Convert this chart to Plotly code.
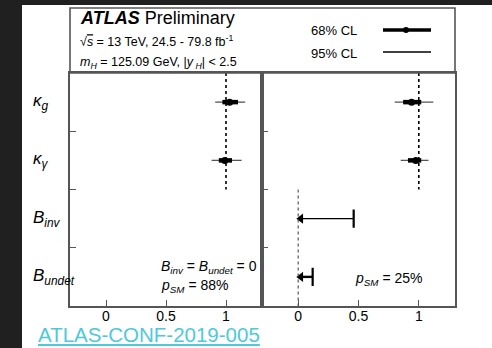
import plotly.graph_objects as go
from plotly.subplots import make_subplots

# Parameters (top to bottom)
params = ["kg", "ka", "Binv", "Bundet"]
param_labels = ["<i>κ</i><sub><i>g</i></sub>", "<i>κ</i><sub><i>γ</i></sub>",
                "<i>B</i><sub><i>inv</i></sub>", "<i>B</i><sub><i>undet</i></sub>"]

# Fit with B_inv = B_undet = 0 (kappa_g, kappa_gamma)
left_params = ["kg", "ka"]
left_best = [1.03, 0.99]
left_lo68 = [0.97, 0.94]
left_hi68 = [1.10, 1.05]
left_lo95 = [0.91, 0.88]
left_hi95 = [1.16, 1.13]

# Fit with B_inv and B_undet free
right_params = ["kg", "ka"]
right_best = [0.94, 0.975]
right_lo68 = [0.87, 0.91]
right_hi68 = [1.02, 1.02]
right_lo95 = [0.80, 0.85]
right_hi95 = [1.12, 1.08]

# 95% CL upper limits on branching ratios
limit_params = ["Binv", "Bundet"]
limit_values = [0.46, 0.12]
limit_widths = [1.2, 2.4]

xticks = [0, 0.5, 1]
xtick_text = ["0", "0.5", "1"]

FONT = "Liberation Sans, Arial, sans-serif"
W, H = 492, 348
ML, MR, MT, MB = 70, 37, 73, 42
PW, PH = W - ML - MR, H - MT - MB


def px(x):
    return (x - ML) / PW


def py(y):
    return (H - MB - y) / PH


fig = make_subplots(rows=1, cols=2, shared_yaxes=True, horizontal_spacing=0,
                    column_widths=[192, 193])


def add_fit(best, lo68, hi68, lo95, hi95, cats, col):
    fig.add_trace(go.Scatter(
        x=best, y=cats, mode="markers",
        marker=dict(size=0.1, color="rgba(0,0,0,0)"),
        error_x=dict(type="data", symmetric=False,
                     array=[h - b for h, b in zip(hi95, best)],
                     arrayminus=[b - l for b, l in zip(best, lo95)],
                     thickness=1.3, width=0, color="#555"),
        showlegend=False, hoverinfo="skip"), row=1, col=col)
    fig.add_trace(go.Scatter(
        x=best, y=cats, mode="markers",
        marker=dict(size=7, color="black"),
        error_x=dict(type="data", symmetric=False,
                     array=[h - b for h, b in zip(hi68, best)],
                     arrayminus=[b - l for b, l in zip(best, lo68)],
                     thickness=4.5, width=0, color="black"),
        showlegend=False), row=1, col=col)


add_fit(left_best, left_lo68, left_hi68, left_lo95, left_hi95, left_params, 1)
add_fit(right_best, right_lo68, right_hi68, right_lo95, right_hi95, right_params, 2)

# Upper limits drawn as arrows pointing to zero
for p, ul, lw in zip(limit_params, limit_values, limit_widths):
    fig.add_trace(go.Scatter(x=[0, ul], y=[p, p], mode="lines",
                             line=dict(color="black", width=lw),
                             showlegend=False, hoverinfo="skip"), row=1, col=2)
    fig.add_trace(go.Scatter(x=[ul], y=[p], mode="markers",
                             marker=dict(symbol="line-ns", size=13,
                                         line=dict(color="black", width=2.2)),
                             showlegend=False), row=1, col=2)
    fig.add_trace(go.Scatter(x=[0.022], y=[p], mode="markers",
                             marker=dict(symbol="triangle-left", size=9, color="black"),
                             showlegend=False, hoverinfo="skip"), row=1, col=2)

# Standard Model reference lines
dot = dict(color="black", width=1.6, dash="dot")
fig.add_shape(type="line", xref="x", yref="y", x0=1, x1=1, y0=-0.5, y1=1.5, line=dot)
fig.add_shape(type="line", xref="x2", yref="y", x0=1, x1=1, y0=-0.5, y1=1.5, line=dot)
fig.add_shape(type="line", xref="x2", yref="y", x0=0, x1=0, y0=1.5, y1=3.5,
              line=dict(color="#555", width=1.2, dash="dot"))

axis_col = "#555"
for c in (1, 2):
    fig.update_xaxes(range=[-0.3, 1.3], tickvals=xticks, ticktext=xtick_text,
                     ticks="inside", ticklen=6, tickcolor=axis_col, tickwidth=1.3,
                     showline=True, mirror=True, linecolor=axis_col, linewidth=1.6,
                     showgrid=False, zeroline=False, ticklabelstandoff=-4,
                     tickfont=dict(family=FONT, size=14, color="black"),
                     row=1, col=c)
fig.update_yaxes(type="category", categoryorder="array", categoryarray=params,
                 range=[3.5, -0.5], tickson="boundaries", ticks="inside",
                 ticklen=6, tickcolor=axis_col, tickwidth=1.3,
                 showticklabels=False, showline=True, mirror=True,
                 linecolor=axis_col, linewidth=1.6, showgrid=False, zeroline=False)

# Backdrop and header box
shapes = [
    dict(type="rect", xref="paper", yref="paper", x0=px(22), x1=px(W + 5),
         y0=py(H + 5), y1=py(5), fillcolor="white", line=dict(width=0), layer="below"),
    dict(type="rect", xref="paper", yref="paper", x0=0, x1=1, y0=1, y1=py(8),
         fillcolor="rgba(0,0,0,0)", line=dict(color=axis_col, width=1.6)),
    dict(type="line", xref="paper", yref="paper", x0=px(383), x1=px(431),
         y0=py(30), y1=py(30), line=dict(color="black", width=3.5)),
    dict(type="circle", xref="paper", yref="paper", x0=px(403), x1=px(409),
         y0=py(33), y1=py(27), fillcolor="black", line=dict(width=0)),
    dict(type="line", xref="paper", yref="paper", x0=px(383), x1=px(431),
         y0=py(52), y1=py(52), line=dict(color="black", width=1.4)),
]
for s in shapes:
    fig.add_shape(**s)

ann = []
for p, lab in zip(params, param_labels):
    ann.append(dict(x=px(31), y=p, xref="paper", yref="y", text=lab,
                    xanchor="left", yanchor="middle", showarrow=False,
                    font=dict(family=FONT, size=17, color="black")))


def txt(x, y, t, size, anchor="left", color="black"):
    ann.append(dict(x=px(x), y=py(y), xref="paper", yref="paper", text=t,
                    xanchor=anchor, yanchor="middle", showarrow=False,
                    font=dict(family=FONT, size=size, color=color)))


txt(78, 18, "<b><i>ATLAS</i></b> Preliminary", 18)
txt(78, 41, "√<span style='text-decoration:overline'><i>s</i></span> = 13 TeV, 24.5 - 79.8 fb<sup>-1</sup>", 12.5)
txt(78, 63, "<i>m</i><sub><i>H</i></sub> = 125.09 GeV, |<i>y</i><sub> <i>H</i></sub>| < 2.5", 12.5)
txt(309, 31, "68% CL", 13)
txt(309, 53, "95% CL", 13)
txt(159, 267, "<i>B</i><sub><i>inv</i></sub> = <i>B</i><sub><i>undet</i></sub> = 0", 14)
txt(159, 286, "<i>p</i><sub><i>SM</i></sub> = 88%", 14)
txt(353, 279, "<i>p</i><sub><i>SM</i></sub> = 25%", 14)
txt(36, 334, "<u>ATLAS-CONF-2019-005</u>", 20.5, color="#4ec9dc")

fig.update_layout(width=W, height=H, margin=dict(l=ML, r=MR, t=MT, b=MB),
                  paper_bgcolor="#202020", plot_bgcolor="white",
                  annotations=ann, showlegend=False)

fig.write_html("out.html")
